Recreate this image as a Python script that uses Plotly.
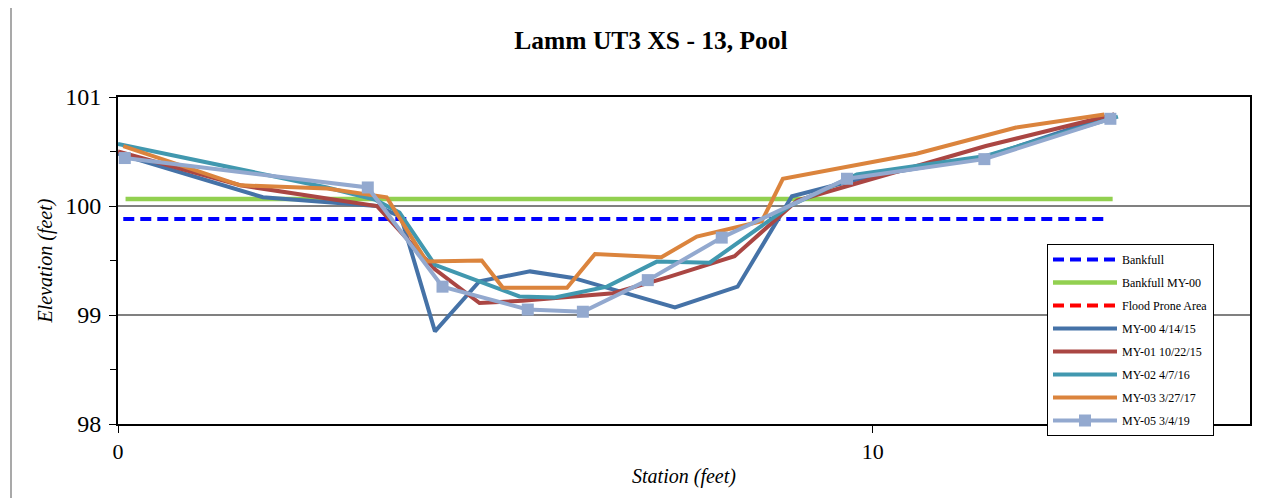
import plotly.graph_objects as go

# ---------------- data ----------------
bankfull_x = [0.07, 13.12]
bankfull_y = [99.88, 99.88]

bankfull_my00_x = [0.1, 13.18]
bankfull_my00_y = [100.065, 100.065]

my00_x = [0.0, 1.92, 3.43, 3.75, 4.2, 4.79, 5.46, 6.03, 7.38, 8.21, 8.93, 10.0, 11.5, 13.2]
my00_y = [100.48, 100.08, 100.0, 99.9, 98.85, 99.31, 99.40, 99.34, 99.07, 99.26, 100.09, 100.28, 100.45, 100.84]

my01_x = [0.0, 1.62, 3.43, 4.2, 4.79, 5.36, 6.56, 7.3, 8.17, 9.0, 10.4, 11.5, 13.2]
my01_y = [100.50, 100.19, 100.0, 99.42, 99.11, 99.13, 99.20, 99.35, 99.54, 100.05, 100.33, 100.55, 100.84]

my02_x = [0.0, 2.77, 3.4, 3.73, 4.2, 5.32, 5.79, 6.48, 7.14, 7.84, 8.9, 9.79, 11.5, 13.25]
my02_y = [100.57, 100.17, 100.06, 99.94, 99.46, 99.17, 99.16, 99.26, 99.49, 99.48, 100.0, 100.29, 100.46, 100.82]

my03_x = [0.07, 1.62, 2.77, 3.56, 4.09, 4.82, 5.1, 5.95, 6.32, 7.2, 7.67, 8.15, 8.53, 8.81, 10.58, 11.9, 13.07]
my03_y = [100.55, 100.19, 100.16, 100.08, 99.49, 99.50, 99.25, 99.25, 99.56, 99.53, 99.72, 99.80, 99.86, 100.25, 100.48, 100.72, 100.84]

my05_x = [0.09, 3.31, 4.3, 5.43, 6.16, 7.02, 8.0, 9.66, 11.48, 13.15]
my05_y = [100.44, 100.17, 99.26, 99.05, 99.03, 99.32, 99.71, 100.25, 100.43, 100.80]

x_ticks = [0, 10]
y_ticks = [98, 99, 100, 101]

# ---------------- figure ----------------
fig = go.Figure()
lw = 4
fig.add_trace(go.Scatter(x=bankfull_x, y=bankfull_y, mode="lines", name="Bankfull",
                         legendgroup="a",
                         line=dict(color="#0000FF", width=4, dash="11px,6px")))
fig.add_trace(go.Scatter(x=bankfull_my00_x, y=bankfull_my00_y, mode="lines", name="Bankfull MY-00",
                         legendgroup="b",
                         line=dict(color="#92D050", width=4.5)))
fig.add_trace(go.Scatter(x=[None], y=[None], mode="lines", name="Flood Prone Area",
                         legendgroup="c",
                         line=dict(color="#FF0000", width=4, dash="11px,6px")))
fig.add_trace(go.Scatter(x=my00_x, y=my00_y, mode="lines", name="MY-00 4/14/15",
                         legendgroup="d", line=dict(color="#4572A7", width=lw)))
fig.add_trace(go.Scatter(x=my01_x, y=my01_y, mode="lines", name="MY-01 10/22/15",
                         legendgroup="e", line=dict(color="#AA4643", width=lw)))
fig.add_trace(go.Scatter(x=my02_x, y=my02_y, mode="lines", name="MY-02 4/7/16",
                         legendgroup="f", line=dict(color="#4198AF", width=lw)))
fig.add_trace(go.Scatter(x=my03_x, y=my03_y, mode="lines", name="MY-03 3/27/17",
                         legendgroup="g", line=dict(color="#DB843D", width=lw)))
fig.add_trace(go.Scatter(x=my05_x, y=my05_y, mode="lines+markers", name="MY-05 3/4/19",
                         legendgroup="h", line=dict(color="#93A9CF", width=lw),
                         marker=dict(symbol="square", size=12, color="#93A9CF")))

# the page body adds an 8px margin; work in target-screen pixels and subtract it
OFF = 8
W, H = 1272 - OFF, 498 - OFF
L, R, T, B = 118 - OFF, 1250 - OFF, 97 - OFF, 424 - OFF
pw, ph = R - L, B - T

def px_x(p):
    return (p - OFF - L) / pw

def px_y(p):
    return (B - (p - OFF)) / ph

# outer chart border (gray)
fig.add_shape(type="line", xref="paper", yref="paper",
              x0=px_x(11), x1=px_x(11), y0=px_y(505), y1=px_y(2),
              line=dict(color="#8C8C8C", width=1.5))
fig.add_shape(type="line", xref="paper", yref="paper",
              x0=px_x(11), x1=px_x(1280), y0=px_y(2), y1=px_y(2),
              line=dict(color="#8C8C8C", width=1.5))

fig.update_layout(
    width=W, height=H,
    margin=dict(l=L, r=W - R, t=T, b=H - B, pad=0, autoexpand=False),
    paper_bgcolor="white", plot_bgcolor="white",
    font=dict(family="Liberation Serif", color="black"),
    title=dict(text="<b>Lamm UT3 XS - 13, Pool</b>", x=(651 - OFF) / W, xref="container",
               xanchor="center", y=1 - (40 - OFF) / H, yanchor="middle",
               font=dict(size=25.5, family="Liberation Serif", color="black")),
    showlegend=True,
    legend=dict(x=px_x(1047), y=px_y(244), xanchor="left", yanchor="top",
                bgcolor="white", bordercolor="black", borderwidth=1,
                font=dict(size=12, family="Liberation Serif", color="black"),
                itemwidth=64, tracegroupgap=4, itemclick=False),
    xaxis=dict(range=[0, 15], tickvals=x_ticks, ticktext=[str(v) for v in x_ticks],
               showgrid=False, zeroline=False, automargin=False,
               showline=True, linecolor="black", linewidth=2, mirror=True,
               ticks="outside", ticklen=7, tickcolor="black", tickwidth=1,
               tickfont=dict(size=22, family="Liberation Serif"),
               title=dict(text="<i>Station (feet)</i>", standoff=6,
                          font=dict(size=20, family="Liberation Serif"))),
    yaxis=dict(range=[98, 101], tickvals=y_ticks, ticktext=[str(v) for v in y_ticks],
               showgrid=True, gridcolor="#808080", gridwidth=1.5, zeroline=False,
               automargin=False,
               showline=True, linecolor="black", linewidth=2, mirror=True,
               ticks="outside", ticklen=7, tickcolor="black", tickwidth=1,
               ticklabelstandoff=3,
               tickfont=dict(size=24, family="Liberation Serif"),
               minor=dict(dtick=0.5, tick0=98, ticks="outside", ticklen=6,
                          tickcolor="black", showgrid=False),
               title=dict(text="<i>Elevation (feet)</i>", standoff=7,
                          font=dict(size=20, family="Liberation Serif"))),
)

fig.write_html("out.html")
